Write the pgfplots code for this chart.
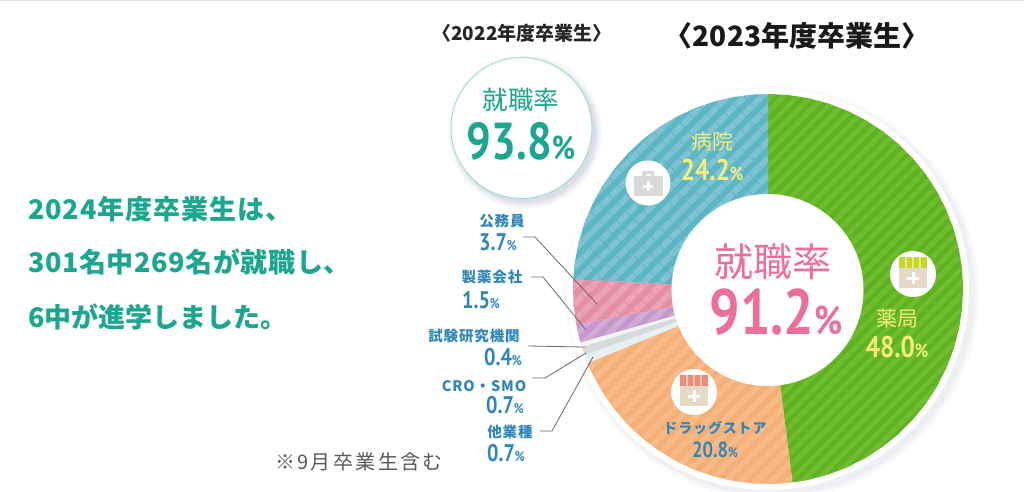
\documentclass[border=0pt]{standalone}
\usepackage{fontspec}
\usepackage{pgfplots}
\pgfplotsset{compat=1.18}
\usepgfplotslibrary{polar}
\usetikzlibrary{patterns.meta}
\setmainfont{Noto Sans CJK JP}
\newfontfamily\jp{Noto Sans CJK JP}
\newfontfamily\jps[LetterSpace=6]{Noto Sans CJK JP}
\newfontfamily\jpa[LetterSpace=3.5]{Noto Sans CJK JP}
\newfontfamily\jpb[LetterSpace=2.3]{Noto Sans CJK JP}
\newfontfamily\jpc[LetterSpace=12]{Noto Sans CJK JP}
\newfontfamily\num[FakeStretch=.84]{PT Sans}
\newcommand{\fs}[1]{\fontsize{#1}{#1}\selectfont}
\definecolor{teal1}{HTML}{1AA68F}
\definecolor{pink1}{HTML}{EB6F98}
\definecolor{blue1}{HTML}{2E87B8}
\definecolor{yel1}{HTML}{F3EE7C}
\definecolor{lead}{HTML}{6A6A6A}
\definecolor{cgreen}{HTML}{5FB323}
\definecolor{cgreen2}{HTML}{70BC2E}
\definecolor{corange}{HTML}{F5B076}
\definecolor{corange2}{HTML}{F7BA88}
\definecolor{cblue}{HTML}{5DB6C6}
\definecolor{cblue2}{HTML}{7FC3D1}
\definecolor{cpink}{HTML}{E48FA5}
\definecolor{cpink2}{HTML}{EBA3B5}
\definecolor{cpurple}{HTML}{C598CC}
\definecolor{cpurple2}{HTML}{D0ABD6}
\definecolor{cpale1}{HTML}{E6EFF4}
\definecolor{cpale2}{HTML}{D6DADA}
\definecolor{cpale3}{HTML}{F1F4F4}
\definecolor{beige}{HTML}{E6D9C8}
\definecolor{awngreen}{HTML}{C6D62A}
\definecolor{awnred}{HTML}{EE8A78}
\definecolor{shad}{HTML}{8A96B4}
\newcommand{\val}[3]{{\num\bfseries\fs{#1}#2{\fs{#3}\%}}}
\begin{document}
\begin{tikzpicture}[x=1pt,y=-1pt]
\useasboundingbox (0,0) rectangle (1024,491);
\fill[white] (0,0) rectangle (1024,491);
\fill[gray!25] (0,0) rectangle (1024,1);
% soft shadows and rims
\foreach \r/\o in {208/.02,206/.03,204/.04,202/.05}
  \fill[shad,opacity=\o] (772,293) circle (\r);
\fill[white] (768,289) circle (201);
\foreach \r/\o in {77/.05,75/.07,73/.09,71/.12}
  \fill[shad,opacity=\o] (525,132) circle (\r);
\fill[white,draw=teal1!40,line width=1pt] (521.5,128) circle (70.5);
% donut, shares clockwise from the top:
% 48.0, 20.8, 0.7, 0.7, 0.4, 1.5, 3.7, 24.2 (angle = 90 - 3.6*cumulative share)
\begin{polaraxis}[
  at={(768pt,-289pt)},anchor=origin,
  width=390pt,height=390pt,scale only axis,
  xmin=0,xmax=360,ymin=0,ymax=195,
  hide axis,clip=false]
\addplot[draw=none,preaction={fill=cgreen},pattern={Lines[angle=45,distance=9.5pt,line width=4.7pt]},pattern color=cgreen2] coordinates {
 (0,0)(90,195)(84,195)(78,195)(72,195)(66,195)(60,195)(54,195)(48,195)(42,195)(36,195)(30,195)(24,195)(18,195)(12,195)(6,195)(0,195)(-6,195)(-12,195)(-18,195)(-24,195)(-30,195)(-36,195)(-42,195)(-48,195)(-54,195)(-60,195)(-66,195)(-72,195)(-78,195)(-82.8,195)};
\addplot[draw=none,preaction={fill=corange},pattern={Lines[angle=45,distance=11pt,line width=5.5pt]},pattern color=corange2] coordinates {
 (0,0)(-82.8,195)(-88,195)(-94,195)(-100,195)(-106,195)(-112,195)(-118,195)(-124,195)(-130,195)(-136,195)(-142,195)(-148,195)(-154,195)(-157.68,195)};
\addplot[draw=none,fill=cpale1] coordinates {(0,0)(-157.68,195)(-160.2,195)};
\addplot[draw=none,fill=cpale2] coordinates {(0,0)(-160.2,195)(-162.72,195)};
\addplot[draw=none,fill=cpale3] coordinates {(0,0)(-162.72,195)(-164.16,195)};
\addplot[draw=none,preaction={fill=cpurple},pattern={Lines[angle=45,distance=11pt,line width=5.5pt]},pattern color=cpurple2] coordinates {
 (0,0)(-164.16,195)(-167,195)(-169.56,195)};
\addplot[draw=none,preaction={fill=cpink},pattern={Lines[angle=45,distance=13pt,line width=6.5pt]},pattern color=cpink2] coordinates {
 (0,0)(-169.56,195)(-175,195)(-180,195)(-182.88,195)};
\addplot[draw=none,preaction={fill=cblue},pattern={Lines[angle=45,distance=13pt,line width=6.5pt]},pattern color=cblue2] coordinates {
 (0,0)(-182.88,195)(-188,195)(-194,195)(-200,195)(-206,195)(-212,195)(-218,195)(-224,195)(-230,195)(-236,195)(-242,195)(-248,195)(-254,195)(-260,195)(-266,195)(-270,195)};
\end{polaraxis}
\fill[white] (767.5,290) circle (96);
% leader lines
\draw[lead,line width=.8pt] (523,237)--(535,237)--(597,304);
\draw[lead,line width=.8pt] (531,277)--(543,277)--(586,330);
\draw[lead,line width=.8pt] (528,346)--(585,347);
\draw[lead,line width=.8pt] (532,378)--(545,378)--(586,353);
\draw[lead,line width=.8pt] (540,431)--(552,431)--(593,357);
% icons
\fill[white] (648,183) circle (22.5);
\fill[gray!30] (633.5,176) rectangle (662.5,196);
\fill[gray!30] (642,171) rectangle (654,176);
\fill[white] (645.5,174) rectangle (650.5,176);
\fill[white] (646.5,181) rectangle (649.5,191);
\fill[white] (643,184.5) rectangle (653,187.5);
\fill[white] (913,274) circle (23);
\fill[beige] (899,264) rectangle (927,288);
\fill[awngreen] (899,257) rectangle (927,268);
\foreach \x in {906,913,920} \fill[white!50!awngreen] (\x-1,257) rectangle (\x+1,268);
\fill[white] (911.5,272) rectangle (914.5,284);
\fill[white] (907,276.5) rectangle (919,279.5);
\fill[white] (694,392) circle (23);
\fill[beige] (680,382) rectangle (708,406);
\fill[awnred] (680,375) rectangle (708,386);
\foreach \x in {687,694,701} \fill[white!50!awnred] (\x-1,375) rectangle (\x+1,386);
\fill[white] (692.5,390) rectangle (695.5,402);
\fill[white] (688,394.5) rectangle (700,397.5);
\tikzset{every node/.style={inner sep=0pt,outer sep=0pt}}
% headings
\node[text=black!85] at (522,33) {\jp\bfseries\fs{19}〈2022年度卒業生〉};
\node[text=black!90] at (797,36) {\jp\bfseries\fs{28}〈2023年度卒業生〉};
% left text
\node[anchor=west,text=teal1] at (28,209) {\jpa\bfseries\fs{27}2024年度卒業生は、};
\node[anchor=west,text=teal1] at (28,262) {\jpb\bfseries\fs{27}301名中269名が就職し、};
\node[anchor=west,text=teal1] at (28,317) {\jp\bfseries\fs{27}6中が進学しました。};
% circle 2022
\node[text=teal1] at (521,100) {\jp\fs{25.5}就職率};
\node[text=teal1] at (521,141) {\val{52}{93.8}{33}};
% centre
\node[text=pink1] at (773,262) {\jp\fs{39}就職率};
\node[text=pink1] at (776,312) {\val{64}{91.2}{40}};
% sector labels
\node[text=yel1] at (712,142) {\jp\fs{21}病院};
\node[text=yel1] at (712,170) {\val{30}{24.2}{19}};
\node[text=yel1] at (897,319) {\jp\fs{21}薬局};
\node[text=yel1] at (897,347) {\val{30}{48.0}{19}};
\node[text=blue1] at (715,428) {\jps\bfseries\fs{14}ドラッグストア};
\node[text=blue1] at (715,450) {\val{22}{20.8}{14}};
% outside labels
\node[text=blue1] at (502,221) {\jps\bfseries\fs{14.5}公務員};
\node[text=blue1] at (498,242) {\val{24}{3.7}{14}};
\node[text=blue1] at (492,277) {\jps\bfseries\fs{14.5}製薬会社};
\node[text=blue1] at (481,300) {\val{24}{1.5}{14}};
\node[text=blue1] at (474,336) {\jps\bfseries\fs{14.5}試験研究機関};
\node[text=blue1] at (503,357) {\val{24}{0.4}{14}};
\node[text=blue1] at (484,386) {\jps\bfseries\fs{14.5}CRO・SMO};
\node[text=blue1] at (505,405) {\val{24}{0.7}{14}};
\node[text=blue1] at (510,432) {\jps\bfseries\fs{14.5}他業種};
\node[text=blue1] at (506,453) {\val{24}{0.7}{14}};
\node[text=black!65] at (359,462) {\jpc\fs{20}※9月卒業生含む};
\end{tikzpicture}
\end{document}
